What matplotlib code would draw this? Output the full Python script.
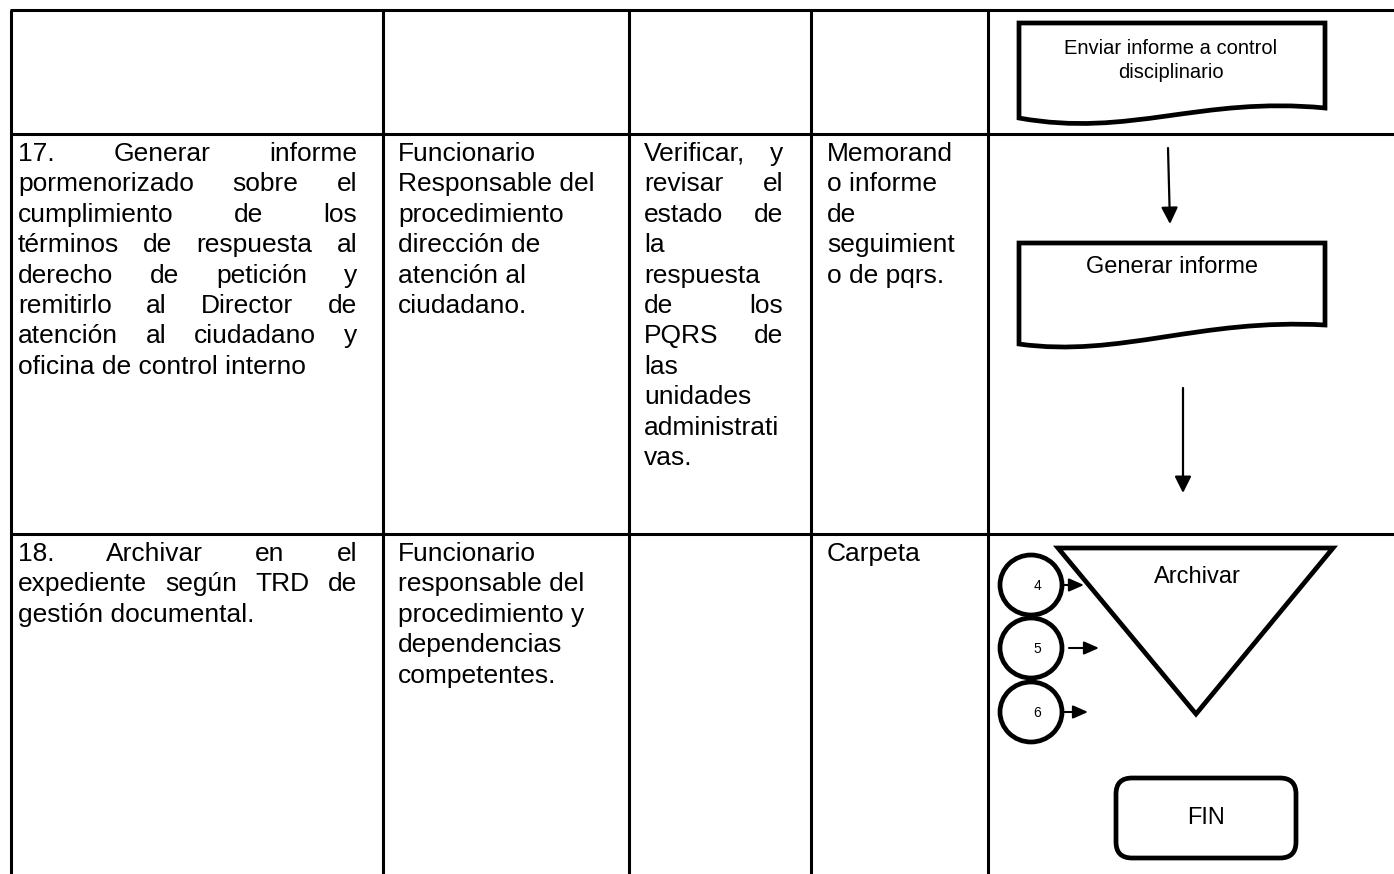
import matplotlib
matplotlib.use("Agg")
import matplotlib.pyplot as plt
from matplotlib.patches import Ellipse, FancyBboxPatch, PathPatch, Polygon
from matplotlib.path import Path

plt.rcParams['font.family'] = ['Liberation Sans', 'DejaVu Sans']

W, H = 1394, 874

# table grid (pixel positions of the ruling lines)
col_x = [11, 383, 629, 811, 988]
row_y = [10, 134, 534]

# text of the table cells, one list per cell, split as in the original
act_17 = ["17. Generar informe", "pormenorizado sobre el", "cumplimiento de los",
          "términos de respuesta al", "derecho de petición y",
          "remitirlo al Director de", "atención al ciudadano y",
          "oficina de control interno"]
resp_17 = ["Funcionario", "Responsable del", "procedimiento", "dirección de",
           "atención al", "ciudadano."]
ctrl_17 = ["Verificar, y", "revisar el", "estado de", "la", "respuesta", "de los",
           "PQRS de", "las", "unidades", "administrati", "vas."]
reg_17 = ["Memorand", "o informe", "de", "seguimient", "o de pqrs."]

act_18 = ["18. Archivar en el", "expediente según TRD de", "gestión documental."]
resp_18 = ["Funcionario", "responsable del", "procedimiento y", "dependencias",
           "competentes."]
reg_18 = ["Carpeta"]

doc_1 = "Enviar informe a control\ndisciplinario"
doc_2 = "Generar informe"
archivo = "Archivar"
conectores = ["4", "5", "6"]
fin = "FIN"

fig = plt.figure(figsize=(W / 100, H / 100), dpi=100)
ax = fig.add_axes([0, 0, 1, 1])
ax.set_xlim(0, W)
ax.set_ylim(H, 0)
ax.axis('off')
renderer = fig.canvas.get_renderer()

FS = 19
LEAD = 30.4


def cell_text(lines, x0, x1, y0, justify):
    for i, line in enumerate(lines):
        y = y0 + i * LEAD
        words = line.split()
        last = i == len(lines) - 1
        if not justify or last or len(words) < 2:
            ax.text(x0, y, line, fontsize=FS, va='baseline', ha='left')
            continue
        arts = [ax.text(0, y, w, fontsize=FS, va='baseline', ha='left') for w in words]
        widths = [a.get_window_extent(renderer).width for a in arts]
        gap = (x1 - x0 - sum(widths)) / (len(words) - 1)
        x = x0
        for a, w in zip(arts, widths):
            a.set_x(x)
            x += w + gap


# grid
for x in col_x:
    ax.plot([x, x], [row_y[0], H], color='black', lw=2.2, solid_capstyle='butt')
for y in row_y:
    ax.plot([col_x[0] - 1, W], [y, y], color='black', lw=2.2, solid_capstyle='butt')

# row 17
base = row_y[1] + 27
cell_text(act_17, 18, 357, base, True)
cell_text(resp_17, 398, 620, base, False)
cell_text(ctrl_17, 644, 783, base, True)
cell_text(reg_17, 827, 980, base, False)

# row 18
base = row_y[2] + 27
cell_text(act_18, 18, 357, base, True)
cell_text(resp_18, 398, 620, base, False)
cell_text(reg_18, 827, 980, base, False)


def document(x0, x1, top, yl, yr, c1, c2):
    verts = [(x0, yl), (x0, top), (x1, top), (x1, yr), c1, c2, (x0, yl), (x0, yl)]
    codes = [Path.MOVETO, Path.LINETO, Path.LINETO, Path.LINETO,
             Path.CURVE4, Path.CURVE4, Path.CURVE4, Path.CLOSEPOLY]
    ax.add_patch(PathPatch(Path(verts, codes), facecolor='white', edgecolor='black',
                           lw=3.4, joinstyle='miter'))


document(1019, 1325, 23, 118, 108, (1200, 96), (1130, 138))
ax.text(1171, 55, doc_1, fontsize=14.5, ha='center', va='baseline', linespacing=1.3,
        multialignment='center')
ax.texts[-1].set_va('top')
ax.texts[-1].set_y(39)

document(1019, 1325, 243, 344, 325, (1200, 318), (1120, 358))
ax.text(1172, 273, doc_2, fontsize=17, ha='center', va='baseline')


def arrow(p0, p1, ms, hl=0.4, hw=0.2, lw=1.6):
    ax.annotate('', xy=p1, xytext=p0,
                arrowprops=dict(arrowstyle=f'-|>,head_length={hl},head_width={hw}',
                                color='black', lw=lw, mutation_scale=ms,
                                shrinkA=0, shrinkB=0))


arrow((1168, 148), (1170, 224), 25)
arrow((1183, 388), (1183, 493), 25)

# archive triangle
ax.add_patch(Polygon([(1058, 548), (1333, 548), (1196, 714)], closed=True,
                     facecolor='white', edgecolor='black', lw=3.4, joinstyle='miter'))
ax.text(1197, 583, archivo, fontsize=17, ha='center', va='baseline')

# connectors 4, 5, 6
cy = [585, 648, 712]
starts = [1062, 1069, 1062]
tips = [1084, 1099, 1088]
for lab, y, s, t in zip(conectores, cy, starts, tips):
    ax.add_patch(Ellipse((1031, y), 62, 60, facecolor='white', edgecolor='black', lw=3.4))
    ax.text(1037, y + 1, lab, fontsize=10, ha='center', va='center')
    arrow((s, y), (t, y), 18, hl=0.5, hw=0.22, lw=1.5)

# end terminal
ax.add_patch(FancyBboxPatch((1116, 778), 180, 80, boxstyle='round,pad=0,rounding_size=16',
                            facecolor='white', edgecolor='black', lw=3.4))
ax.text(1206, 818, fin, fontsize=17, ha='center', va='center')

fig.savefig('out.png', dpi=100)
